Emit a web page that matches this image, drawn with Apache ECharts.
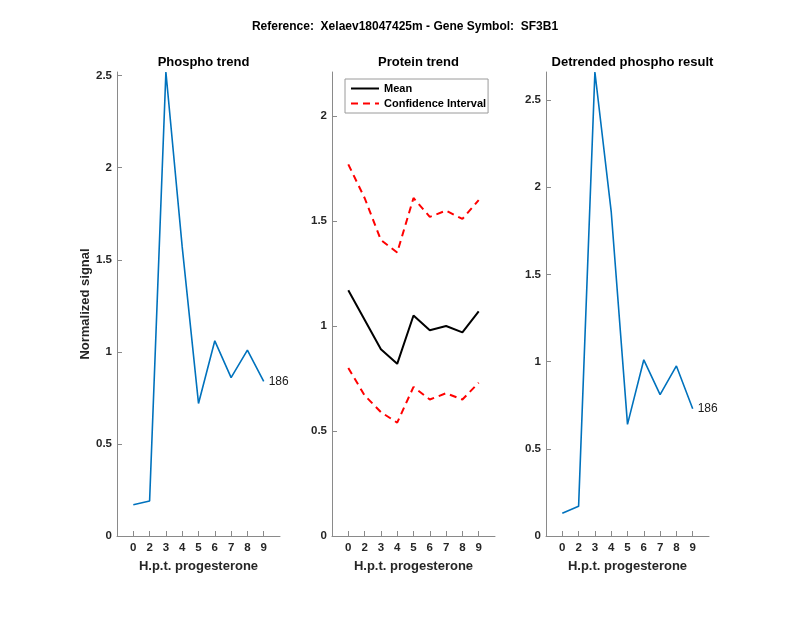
<!DOCTYPE html>
<html>
<head>
<meta charset="utf-8">
<script src="https://cdn.jsdelivr.net/npm/echarts@6/dist/echarts.min.js"></script>
<style>
html,body{margin:0;padding:0;background:#fff;}
#chart{width:800px;height:618px;}
</style>
</head>
<body>
<div id="chart"></div>
<script>
// ---- data ----
const timeLabels = ['0','2','3','4','5','6','7','8','9'];
const phospho = [0.17, 0.19, 2.52, 1.57, 0.72, 1.06, 0.86, 1.01, 0.84];
const proteinMean = [1.17, 1.03, 0.89, 0.82, 1.05, 0.98, 1.00, 0.97, 1.07];
const proteinUpper = [1.77, 1.61, 1.41, 1.35, 1.61, 1.52, 1.55, 1.51, 1.60];
const proteinLower = [0.80, 0.67, 0.59, 0.54, 0.71, 0.65, 0.68, 0.65, 0.73];
const detrended = [0.13, 0.17, 2.66, 1.86, 0.64, 1.01, 0.81, 0.975, 0.73];
const peptideId = '186';
const yTicks1 = [0, 0.5, 1, 1.5, 2, 2.5];
const yTicks2 = [0, 0.5, 1, 1.5, 2];
const yTicks3 = [0, 0.5, 1, 1.5, 2, 2.5];
const yMax = [2.52, 2.21, 2.66];
const mainTitle = 'Reference:  Xelaev18047425m - Gene Symbol:  SF3B1';
const panelTitles = ['Phospho trend', 'Protein trend', 'Detrended phospho result'];
const xName = 'H.p.t. progesterone';
const yName = 'Normalized signal';
const legendNames = ['Mean', 'Confidence Interval'];

// ---- chart ----
const FONT = '"Liberation Sans", Arial, Helvetica, sans-serif';
const AX = '#262626';
const LINE = '#8a8a8a';
const gridLefts = [117, 332, 546];
const gridW = 163;
const catData = [''].concat(timeLabels, ['']);
const toPairs = arr => arr.map((v, i) => [i + 1, v]);

function xAxisFor(i) {
  return {
    type: 'category', gridIndex: i, data: catData, boundaryGap: false,
    axisLine: {lineStyle: {color: LINE, width: 1}},
    axisTick: {inside: true, length: 5, interval: (idx) => idx > 0 && idx < catData.length - 1, lineStyle: {color: LINE}},
    axisLabel: {interval: 0, margin: 6, color: AX, fontFamily: FONT, fontSize: 11.5, fontWeight: 'bold'},
    name: xName, nameLocation: 'middle', nameGap: 24,
    nameTextStyle: {color: AX, fontFamily: FONT, fontSize: 13, fontWeight: 'bold'},
    splitLine: {show: false}
  };
}
function yAxisFor(i, ticks, max, withName) {
  const ax = {
    type: 'value', gridIndex: i, min: 0, max: max,
    axisLine: {show: true, lineStyle: {color: LINE, width: 1}},
    axisTick: {show: true, inside: true, length: 5, customValues: ticks, lineStyle: {color: LINE}},
    axisLabel: {customValues: ticks, margin: 5, color: AX, fontFamily: FONT, fontSize: 11.5, fontWeight: 'bold'},
    splitLine: {show: false}
  };
  if (withName) {
    ax.name = yName; ax.nameLocation = 'middle'; ax.nameGap = 22;
    ax.nameTextStyle = {color: AX, fontFamily: FONT, fontSize: 13, fontWeight: 'bold'};
  }
  return ax;
}
const endLabel = {show: true, distance: 5, formatter: peptideId, color: '#1a1a1a', fontFamily: FONT, fontSize: 12};

const option = {
  backgroundColor: '#fff',
  animation: false,
  title: [
    {text: mainTitle, left: 400, top: 16, textAlign: 'center',
     textStyle: {fontFamily: FONT, fontSize: 12, fontWeight: 'bold', color: '#000'}},
  ].concat(panelTitles.map((t, i) => ({
    text: t, left: gridLefts[i] + gridW / 2, top: 51, textAlign: 'center',
    textStyle: {fontFamily: FONT, fontSize: 13, fontWeight: 'bold', color: '#000'}
  }))),
  legend: {
    data: legendNames, orient: 'vertical', left: 345, top: 79,
    backgroundColor: '#fff', borderColor: '#9a9a9a', borderWidth: 1,
    padding: [4, 2, 4, 5], itemGap: 4, itemWidth: 28, itemHeight: 10,
    itemStyle: {opacity: 0},
    textStyle: {fontFamily: FONT, fontSize: 11, fontWeight: 'bold', color: '#000'},
    selectedMode: false
  },
  grid: gridLefts.map(l => ({left: l, width: gridW, top: 72, height: 464, containLabel: false})),
  xAxis: [xAxisFor(0), xAxisFor(1), xAxisFor(2)],
  yAxis: [yAxisFor(0, yTicks1, yMax[0], true), yAxisFor(1, yTicks2, yMax[1], false), yAxisFor(2, yTicks3, yMax[2], false)],
  series: [
    {type: 'line', xAxisIndex: 0, yAxisIndex: 0, data: toPairs(phospho), symbol: 'none',
     lineStyle: {color: '#0072BD', width: 1.6}, itemStyle: {color: '#0072BD'}, endLabel: endLabel},
    {type: 'line', name: legendNames[0], xAxisIndex: 1, yAxisIndex: 1, data: toPairs(proteinMean), symbol: 'none',
     lineStyle: {color: '#000', width: 2}, itemStyle: {color: '#000'}},
    {type: 'line', name: legendNames[1], xAxisIndex: 1, yAxisIndex: 1, data: toPairs(proteinUpper), symbol: 'none',
     lineStyle: {color: '#ff0000', width: 2, type: [7, 5]}, itemStyle: {color: '#ff0000'}},
    {type: 'line', name: legendNames[1], xAxisIndex: 1, yAxisIndex: 1, data: toPairs(proteinLower), symbol: 'none',
     lineStyle: {color: '#ff0000', width: 2, type: [7, 5]}, itemStyle: {color: '#ff0000'}},
    {type: 'line', xAxisIndex: 2, yAxisIndex: 2, data: toPairs(detrended), symbol: 'none',
     lineStyle: {color: '#0072BD', width: 1.6}, itemStyle: {color: '#0072BD'}, endLabel: endLabel}
  ]
};
const chart = echarts.init(document.getElementById('chart'), null, {renderer: 'canvas'});
chart.setOption(option);
</script>
</body>
</html>
